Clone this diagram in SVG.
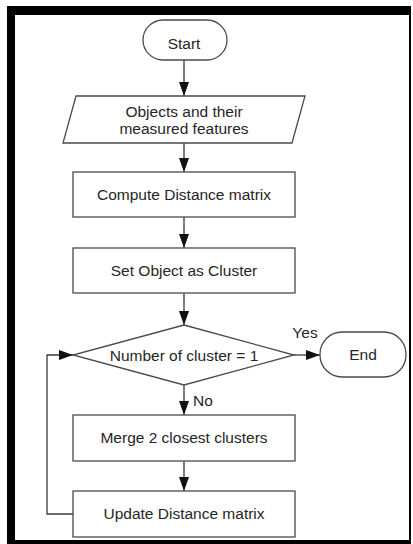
<svg xmlns="http://www.w3.org/2000/svg" width="413" height="544" viewBox="0 0 413 544">
<style>
.shape{fill:#fff;stroke:#4a4a4a;stroke-width:1.3}
.conn{fill:none;stroke:#3a3a3a;stroke-width:1.3}
text{font-family:"Liberation Sans",Arial,sans-serif;font-size:15.5px;fill:#262626;text-anchor:middle}
</style>
<defs>
<marker id="ah" markerUnits="userSpaceOnUse" markerWidth="15" markerHeight="11" refX="14" refY="5" orient="auto">
<path d="M0,0 L14,5 L0,10 Z" fill="#111"/>
</marker>
</defs>
<rect x="0" y="0" width="413" height="544" fill="#fff"/>
<path d="M7,6 H411 V544 H7 Z M15,15 V540 H409 V15 Z" fill="#000" fill-rule="evenodd"/>
<g id="connectors">
<line class="conn" x1="184" y1="60" x2="184" y2="96" marker-end="url(#ah)"/>
<line class="conn" x1="184" y1="143" x2="184" y2="172" marker-end="url(#ah)"/>
<line class="conn" x1="184" y1="217" x2="184" y2="248" marker-end="url(#ah)"/>
<line class="conn" x1="184" y1="293" x2="184" y2="325" marker-end="url(#ah)"/>
<line class="conn" x1="184" y1="385" x2="184" y2="415" marker-end="url(#ah)"/>
<line class="conn" x1="184" y1="461" x2="184" y2="491" marker-end="url(#ah)"/>
<line class="conn" x1="294" y1="355" x2="320" y2="355" marker-end="url(#ah)"/>
<path class="conn" d="M73,514 H47 V355 H73" marker-end="url(#ah)"/>
<text x="305" y="338">Yes</text>
<text x="203" y="406">No</text>
</g>
<g id="start">
<rect class="shape" x="143" y="20" width="84" height="40" rx="20"/>
<text x="184" y="49">Start</text>
</g>
<g id="input">
<polygon class="shape" points="76,96 305,96 292,143 63,143"/>
<text x="184" y="117">Objects and their</text>
<text x="184" y="134">measured features</text>
</g>
<g id="compute">
<rect class="shape" x="73" y="172" width="222" height="45"/>
<text x="184" y="199.5">Compute Distance matrix</text>
</g>
<g id="setcluster">
<rect class="shape" x="73" y="248" width="222" height="45"/>
<text x="184" y="275.5">Set Object as Cluster</text>
</g>
<g id="decision">
<polygon class="shape" points="184,325 294,355 184,385 73,355"/>
<text x="184" y="360.5">Number of cluster = 1</text>
</g>
<g id="end">
<rect class="shape" x="320" y="332" width="86" height="45" rx="22"/>
<text x="363" y="360">End</text>
</g>
<g id="merge">
<rect class="shape" x="73" y="415" width="222" height="46"/>
<text x="184" y="443">Merge 2 closest clusters</text>
</g>
<g id="update">
<rect class="shape" x="73" y="491" width="222" height="46"/>
<text x="184" y="519">Update Distance matrix</text>
</g>
</svg>
